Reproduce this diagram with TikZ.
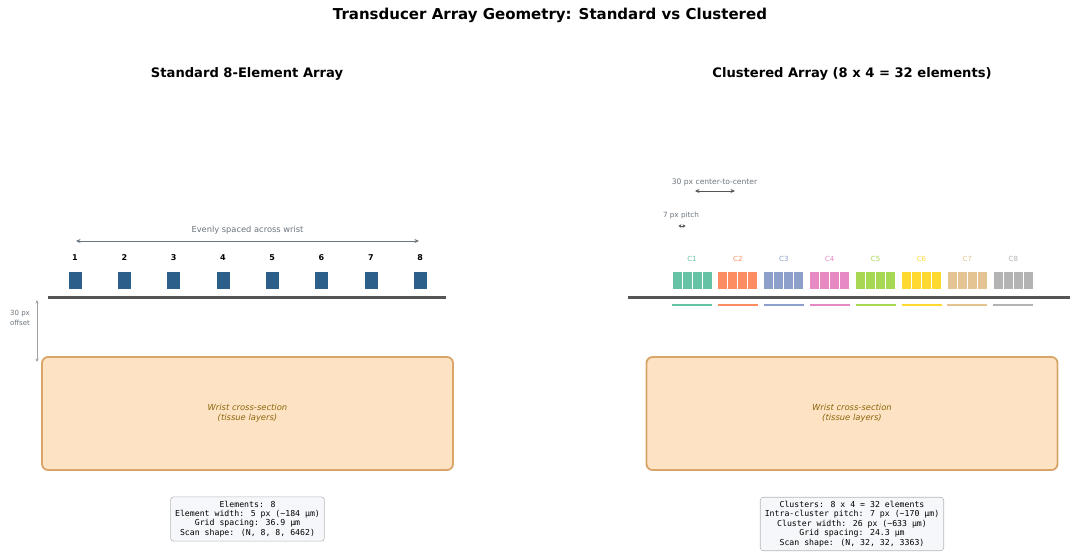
\documentclass[tikz,border=0pt]{standalone}
\usepackage{fontspec}
\setmainfont{DejaVu Sans}
\newfontfamily\monofont{DejaVu Sans Mono}
\usetikzlibrary{arrows.meta}

\definecolor{elemblue}{HTML}{2C5F8A}
\definecolor{skin}{HTML}{555555}
\definecolor{dimgray}{HTML}{6C757D}
\definecolor{lightdim}{HTML}{A0A0A0}
\definecolor{wristfill}{HTML}{FDE3C4}
\definecolor{wristedge}{HTML}{D9A468}
\definecolor{wristtext}{HTML}{8B6508}
\definecolor{infofill}{HTML}{F6F7FB}
\definecolor{infoedge}{HTML}{B8B8B8}
\definecolor{cA}{HTML}{66C2A5}
\definecolor{cB}{HTML}{FC8D62}
\definecolor{cC}{HTML}{8DA0CB}
\definecolor{cD}{HTML}{E78AC3}
\definecolor{cE}{HTML}{A6D854}
\definecolor{cF}{HTML}{FFD92F}
\definecolor{cG}{HTML}{E5C494}
\definecolor{cH}{HTML}{B3B3B3}

\tikzset{
  title/.style={font=\fontsize{15}{18}\selectfont\bfseries},
  subtitle/.style={font=\fontsize{13.1}{15}\selectfont\bfseries},
  small/.style={font=\fontsize{8.3}{10}\selectfont, text=dimgray},
  tiny/.style={font=\fontsize{7.2}{8.5}\selectfont, text=dimgray},
  elem/.style={draw=white, line width=0.5pt, fill=elemblue, minimum width=14pt, minimum height=18pt, inner sep=0pt},
  elemnum/.style={font=\fontsize{8}{9}\selectfont\bfseries},
  subelem/.style={draw=white, line width=0.9pt, minimum width=10pt, minimum height=18pt, inner sep=0pt},
  clabel/.style={font=\fontsize{7}{8}\selectfont},
  dimarrow/.style={<->, >={Stealth[length=4.5pt,width=4pt]}, line width=1pt},
  skinline/.style={draw=skin, line width=3pt},
  wrist/.style={draw=wristedge, line width=1.8pt, fill=wristfill, rounded corners=6pt,
    minimum width=411pt, minimum height=113pt, align=center,
    font=\fontsize{8.4}{10}\selectfont\itshape, text=wristtext},
  info/.style={draw=infoedge, line width=0.6pt, fill=infofill, rounded corners=3pt,
    align=center, inner xsep=4.5pt, inner ysep=4pt, font=\monofont\fontsize{8.2}{9.4}\selectfont},
}

\begin{document}
\begin{tikzpicture}[x=1pt,y=-1pt]
\useasboundingbox[fill=white] (0,0) rectangle (1072,554);

% heading
\node[title] (maintitle) at (550,15) {Transducer Array Geometry: Standard vs Clustered};
\node[subtitle] (lefttitle) at (247,74) {Standard 8-Element Array};
\node[subtitle] (righttitle) at (852,74) {Clustered Array (8 x 4 = 32 elements)};

% ---------- standard array ----------
\coordinate (spanL) at (76,241);
\coordinate (spanR) at (419,241);
\draw[dimarrow, draw=dimgray] (spanL) -- (spanR);
\node[small] (spantext) at (247.5,230) {Evenly spaced across wrist};

\foreach \i in {1,...,8}{
  \pgfmathsetmacro{\xx}{75+49.3*(\i-1)}
  \node[elem] (e\i) at (\xx,280.5) {};
  \node[elemnum] (n\i) at (\xx,258) {\i};
}

\coordinate (skinLa) at (48,297);
\coordinate (skinLb) at (446,297);
\draw[skinline] (skinLa) -- (skinLb);

\coordinate (offTop) at (37,300);
\coordinate (offBot) at (37,362);
\draw[<->, >={Stealth[length=3.5pt,width=3pt]}, line width=0.8pt, draw=lightdim] (offTop) -- (offBot);
\node[tiny, align=center, font=\fontsize{7}{10}\selectfont] (offtext) at (20,318) {30 px\\offset};

\node[wrist] (wristL) at (247.5,413.5) {Wrist cross-section\\(tissue layers)};

\node[info] (infoL) at (247.5,519) {Elements: 8\\Element width: 5 px (\textasciitilde184 μm)\\Grid spacing: 36.9 μm\\Scan shape: (N, 8, 8, 6462)};

% ---------- clustered array ----------
\coordinate (ccL) at (695,191);
\coordinate (ccR) at (735,191);
\draw[dimarrow, draw=skin] (ccL) -- (ccR);
\node[tiny, font=\fontsize{7.6}{9}\selectfont] (cctext) at (714.5,182) {30 px center-to-center};

\coordinate (pL) at (678.5,226);
\coordinate (pR) at (685.5,226);
\draw[<->, >={Stealth[length=2.8pt,width=3.5pt]}, line width=0.8pt, draw=skin] (pL) -- (pR);
\node[tiny] (ptext) at (681,216) {7 px pitch};

\foreach \k/\c in {1/cA,2/cB,3/cC,4/cD,5/cE,6/cF,7/cG,8/cH}{
  \pgfmathsetmacro{\xl}{672+45.9*(\k-1)}
  \foreach \j in {0,...,3}{
    \pgfmathsetmacro{\xe}{\xl+5+10*\j}
    \node[subelem, fill=\c] (s\k-\j) at (\xe,280.5) {};
  }
  \node[clabel, text=\c] (c\k) at (\xl+20,259) {C\k};
  \coordinate (ba\k) at (\xl,305);
  \coordinate (bb\k) at (\xl+40,305);
  \draw[draw=\c, line width=1.6pt] (ba\k) -- (bb\k);
}

\coordinate (skinRa) at (628,297);
\coordinate (skinRb) at (1070,297);
\draw[skinline] (skinRa) -- (skinRb);

\node[wrist] (wristR) at (852,413.5) {Wrist cross-section\\(tissue layers)};

\node[info] (infoR) at (852,524) {Clusters: 8 x 4 = 32 elements\\Intra-cluster pitch: 7 px (\textasciitilde170 μm)\\Cluster width: 26 px (\textasciitilde633 μm)\\Grid spacing: 24.3 μm\\Scan shape: (N, 32, 32, 3363)};

\end{tikzpicture}
\end{document}
